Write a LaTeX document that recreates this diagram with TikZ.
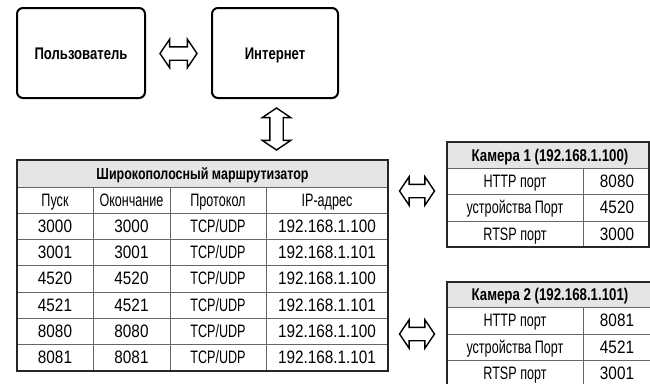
\documentclass[tikz,border=0pt]{standalone}
\usepackage{fontspec}
\setmainfont{Liberation Sans}
\newfontfamily\regf[FakeStretch=0.85]{Liberation Sans}
\newfontfamily\narf[FakeStretch=0.70]{Liberation Sans}
\newfontfamily\boldf[FakeStretch=0.78]{Liberation Sans Bold}
\usetikzlibrary{shapes.arrows}
\newcommand\tcpudp{TCP/UDP}
\begin{document}
\begin{tikzpicture}[x=1pt,y=-1pt,
  mainbox/.style={draw=black,line width=2pt,rounded corners=6pt,minimum height=90pt,
    font=\boldf\fontsize{16.8}{18}\selectfont,inner sep=0pt,text height=12pt,text depth=0pt},
  blockarrow/.style={double arrow,draw=black,line width=1.4pt,fill=white,inner sep=0pt,
    minimum height=#1,minimum width=27pt,double arrow head extend=7.5pt,
    double arrow tip angle=112,text height=0pt,text depth=12pt,text width=0pt},
  cell/.style={font=\regf\fontsize{18}{20}\selectfont,inner sep=0pt,text height=12.9pt,text depth=0pt},
  celltxt/.style={font=\narf\fontsize{18}{20}\selectfont,inner sep=0pt,text height=12.9pt,text depth=0pt},
  headcell/.style={font=\boldf\fontsize{16}{18}\selectfont,inner sep=0pt,text height=11.5pt,text depth=0pt},
  camhead/.style={headcell,font=\boldf\fontsize{17}{18}\selectfont,text height=12.2pt},
  outerline/.style={draw=black!85,line width=1.5pt},
  innerline/.style={draw=black!60,line width=0.9pt},
  headfill/.style={fill=black!10}]
\useasboundingbox (0,0) rectangle (650,383);

% top boxes
\node[mainbox,minimum width=128pt] (user) at (81,53) {Пользователь};
\node[mainbox,minimum width=126pt] (inet) at (275,53) {Интернет};

% arrows
\node[blockarrow=37pt] (a1) at (178.5,53.5) {};
\node[blockarrow=42pt,rotate=90] (a2) at (276.5,129) {};
\node[blockarrow=35pt] (a3) at (417,191) {};
\node[blockarrow=35pt] (a4) at (417,334) {};

% router table
\fill[headfill] (17,160) rectangle (388,187);
\foreach \yy in {187,213,239,265,292,318,344} \draw[innerline] (17,\yy) -- (388,\yy);
\foreach \xx in {93,170,266} \draw[innerline] (\xx,187) -- (\xx,371);
\draw[outerline] (17,160) rectangle (388,371);
\node[headcell] (rhead) at (202.5,173.5) {Широкополосный маршрутизатор};
\node[celltxt] (h1) at (55,200) {Пуск};
\node[celltxt] (h2) at (131.5,200) {Окончание};
\node[celltxt] (h3) at (218,200) {Протокол};
\node[celltxt] (h4) at (327,200) {IP-адрес};
\foreach \yy/\a/\b/\d [count=\i] in {
  226/3000/3000/192.168.1.100,
  252/3001/3001/192.168.1.101,
  278.5/4520/4520/192.168.1.100,
  305/4521/4521/192.168.1.101,
  331/8080/8080/192.168.1.100,
  357.5/8081/8081/192.168.1.101}{
  \node[cell] (r\i a) at (55,\yy) {\a};
  \node[cell] (r\i b) at (131.5,\yy) {\b};
  \node[celltxt] (r\i c) at (218,\yy) {\tcpudp};
  \node[cell] (r\i d) at (327,\yy) {\d};
}

% camera 1
\fill[headfill] (447,142) rectangle (649,168);
\foreach \yy in {168,194,221} \draw[innerline] (447,\yy) -- (649,\yy);
\draw[innerline] (583,168) -- (583,247);
\draw[outerline] (447,142) rectangle (649,247);
\node[camhead] (c1head) at (550,155) {Камера 1 (192.168.1.100)};
\foreach \yy/\a/\b [count=\i] in {181/HTTP порт/8080, 207.5/устройства Порт/4520, 234/RTSP порт/3000}{
  \node[celltxt] (c1r\i a) at (515,\yy) {\a};
  \node[cell] (c1r\i b) at (617,\yy) {\b};
}

% camera 2
\fill[headfill] (447,282) rectangle (653,307);
\foreach \yy in {307,334,360} \draw[innerline] (447,\yy) -- (653,\yy);
\draw[innerline] (583,307) -- (583,387);
\draw[outerline] (447,282) rectangle (653,387);
\node[camhead] (c2head) at (550,294.5) {Камера 2 (192.168.1.101)};
\foreach \yy/\a/\b [count=\i] in {320.5/HTTP порт/8081, 347/устройства Порт/4521, 373/RTSP порт/3001}{
  \node[celltxt] (c2r\i a) at (515,\yy) {\a};
  \node[cell] (c2r\i b) at (617,\yy) {\b};
}
\end{tikzpicture}
\end{document}
